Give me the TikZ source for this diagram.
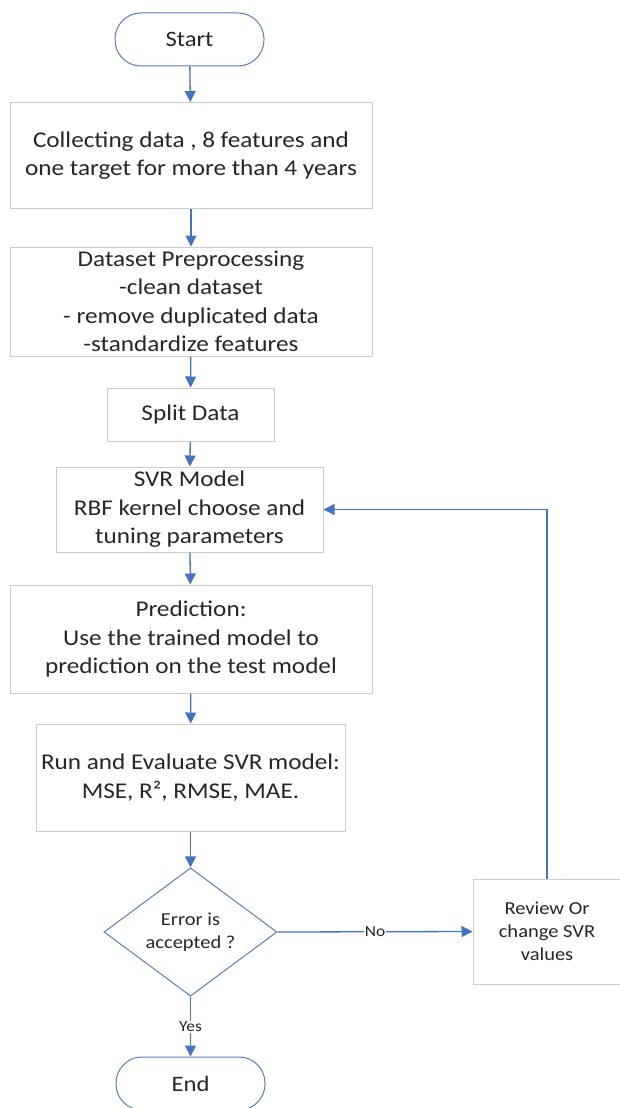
\documentclass[tikz,border=0pt]{standalone}
\usepackage{fontspec}
\setmainfont[FakeStretch=1.12]{Carlito}
\usetikzlibrary{shapes.geometric,arrows.meta}
\definecolor{flowblue}{HTML}{4472C4}
\definecolor{termblue}{HTML}{5B7DB8}
\definecolor{boxgray}{HTML}{CCCCCC}
\definecolor{txt}{HTML}{262626}
\tikzset{
  procbox/.style={draw=boxgray,line width=1pt,rectangle,align=center,text=txt,
    font=\fontsize{22.5}{28.5}\selectfont,inner sep=0pt},
  smallbox/.style={procbox,font=\fontsize{18.3}{23}\selectfont},
  termbox/.style={draw=termblue,line width=1pt,rectangle,rounded corners=26pt,
    minimum width=149pt,minimum height=53pt,text=txt,font=\fontsize{22}{26}\selectfont},
  decbox/.style={draw=termblue,line width=1pt,diamond,minimum width=173pt,minimum height=125pt,
    inner sep=0pt,align=center,text=txt,font=\fontsize{18.3}{23}\selectfont},
  flow/.style={draw=flowblue,line width=1.3pt,-{Triangle[length=11pt,width=11pt]}},
  lbl/.style={fill=white,inner sep=1pt,text=txt,font=\fontsize{15.5}{17}\selectfont},
}
\begin{document}
\begin{tikzpicture}[x=1pt,y=-1pt]
\useasboundingbox (0,0) rectangle (619,1108);
\node[termbox] (start) at (189.5,39.5) {Start};
\node[procbox,minimum width=362pt,minimum height=106pt] (collect) at (191,155.5)
  {Collecting data , 8 features and\\one target for more than 4 years};
\node[procbox,minimum width=362pt,minimum height=109pt] (prep) at (191,301.5)
  {Dataset Preprocessing\\-clean dataset\\- remove duplicated data\\-standardize features};
\node[procbox,minimum width=167pt,minimum height=53pt] (split) at (190.5,414.5) {Split Data};
\node[procbox,minimum width=267pt,minimum height=85pt] (svr) at (189.5,509.5)
  {SVR Model\\RBF kernel choose and\\tuning parameters};
\node[procbox,minimum width=362pt,minimum height=108pt] (pred) at (191,639)
  {Prediction:\\Use the trained model to\\prediction on the test model};
\node[procbox,minimum width=309pt,minimum height=107pt] (eval) at (190.5,777.5)
  {Run and Evaluate SVR model:\\MSE, R², RMSE, MAE.};
\node[decbox] (dec) at (190.5,932) {Error is\\accepted ?};
\node[smallbox,minimum width=148pt,minimum height=105pt] (review) at (547,931.5)
  {Review Or\\change SVR\\values};
\node[termbox] (end) at (190.5,1083.5) {End};
\draw[flow] (start) -- (collect);
\draw[flow] (collect) -- (prep);
\draw[flow] (prep) -- (split);
\draw[flow] (split) -- (svr);
\draw[flow] (svr) -- (pred);
\draw[flow] (pred) -- (eval);
\draw[flow] (eval) -- (dec);
\draw[flow] (dec.east) -- node[lbl] {No} (review.west);
\draw[flow] (dec.south) -- node[lbl] {Yes} (end.north);
\draw[flow] (review.north) |- (svr.east);
\end{tikzpicture}
\end{document}
